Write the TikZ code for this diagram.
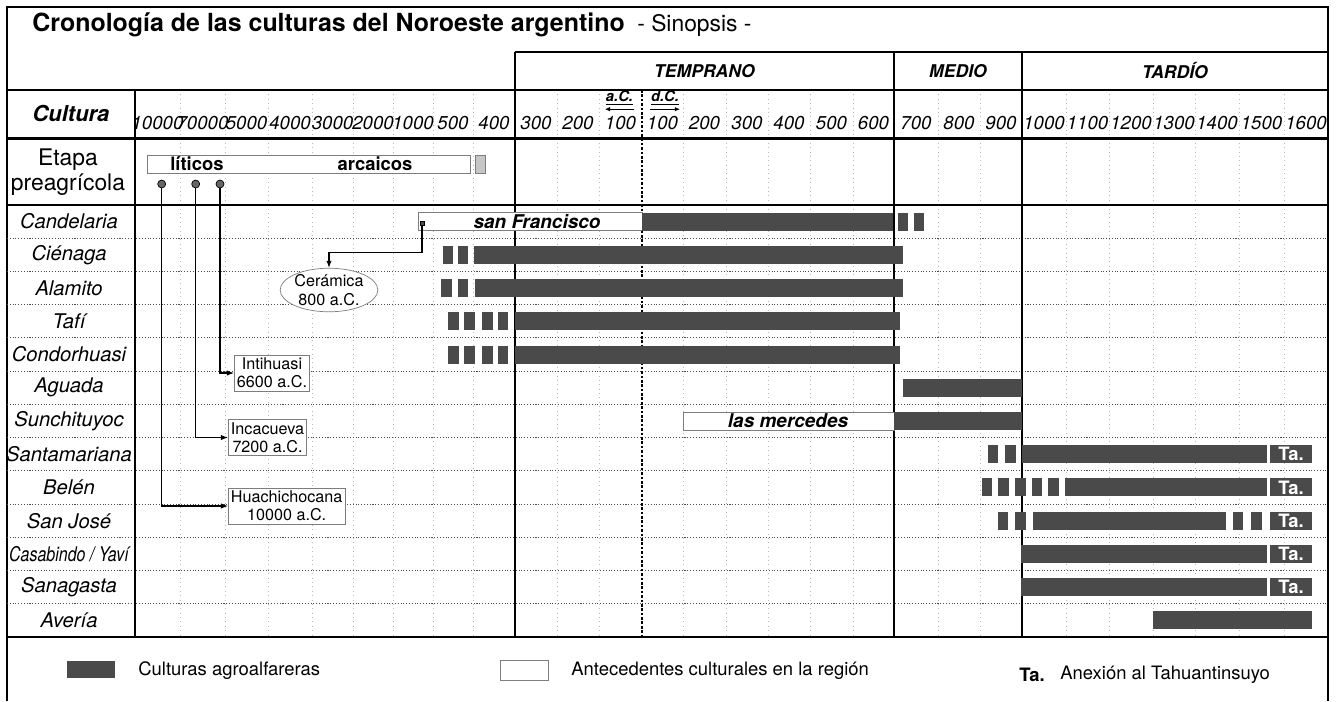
\documentclass[tikz,border=0pt]{standalone}
\usepackage{fontspec}
\setmainfont{TeX Gyre Heros}
\usetikzlibrary{arrows.meta,shapes.geometric,positioning}

\definecolor{barra}{RGB}{74,74,74}
\definecolor{borde}{RGB}{125,125,125}

\begin{document}
\begin{tikzpicture}[
    x=0.02cm, y=-0.02cm,   % una unidad = un pixel, y hacia abajo
    marco/.style={line width=1.3pt},
    grilla/.style={gray!55, dotted, line width=0.5pt},
    fila/.style={black!70, densely dotted, line width=0.6pt},
    agro/.style={fill=barra},
    antec/.style={draw=borde, fill=white, line width=0.5pt},
    anio/.style={font=\fontsize{10.6}{12}\selectfont\itshape, inner sep=0pt},
    periodo/.style={font=\fontsize{10}{12}\selectfont\bfseries\itshape, inner sep=0pt},
    cultura/.style={font=\fontsize{11.5}{13}\selectfont\itshape, inner sep=0pt},
    fase/.style={font=\fontsize{10.8}{12}\selectfont\bfseries\itshape, inner sep=0pt},
    sitio/.style={draw=borde, fill=white, align=center, inner sep=1.5pt,
        font=\fontsize{9.2}{10.5}\selectfont},
    tabox/.style={fill=barra, text=white, font=\fontsize{10.5}{12}\selectfont\bfseries,
        minimum width=0.84cm, minimum height=0.36cm, inner sep=0pt},
    punto/.style={circle, draw=black, fill=barra!85, minimum size=0.16cm, inner sep=0pt},
    flecha/.style={-{Latex[length=4pt,width=3pt]}, line width=0.6pt},
    leyenda/.style={font=\fontsize{10.5}{12}\selectfont, anchor=west, inner sep=0pt}
]
% fondo y marco
\path[fill=white, use as bounding box] (0,0) rectangle (1339,701);
\draw[marco] (7,701) -- (7,7) -- (1328,7) -- (1328,701);

% título
\node[anchor=west, inner sep=0pt] (titulo) at (32,25)
    {\fontsize{14.2}{16}\selectfont\bfseries Cronología de las culturas del Noroeste argentino\enspace
     \fontsize{13}{15}\selectfont\mdseries - Sinopsis -};

% grilla de columnas y filas
\foreach \x in {180,225,268,312,353,393,433,473,557,599,683,726,768,810,853,938,980,1066,1109,1153,1195,1239,1284}
    \draw[grilla] (\x,90) -- (\x,637);
\foreach \r in {1,...,12}
    \draw[fila] (7,{205+\r*33.23}) -- (1328,{205+\r*33.23});

% líneas principales
\draw[line width=0.7pt] (515,52) -- (1328,52);
\draw[line width=0.7pt] (7,90) -- (1328,90);
\draw[line width=1.4pt] (7,138.5) -- (1328,138.5);
\draw[line width=0.7pt] (7,205) -- (1328,205);
\draw[line width=1.4pt] (7,637) -- (1328,637);
\draw[line width=1.6pt] (135,90) -- (135,637);
\foreach \x in {515,894,1022}
    \draw[line width=0.7pt] (\x,52) -- (\x,637);
\draw[line width=0.8pt, dash pattern=on 1.5pt off 1pt] (642,90) -- (642,637);

% períodos
\node[periodo] (temprano) at (704.5,71) {TEMPRANO};
\node[periodo] (medio) at (958,71) {MEDIO};
\node[periodo] (tardio) at (1175,71) {TARDÍO};

% años
\node[font=\fontsize{12.5}{14}\selectfont\bfseries\itshape, inner sep=0pt] (cultura) at (71,113) {Cultura};
\foreach \xa/\xb/\t [count=\k] in {135/180/10000, 180/225/70000, 225/268/5000, 268/312/4000,
        312/353/3000, 353/393/2000, 393/433/1000, 433/473/500, 473/515/400,
        515/557/300, 557/599/200, 599/642/100, 642/683/100, 683/726/200, 726/768/300,
        768/810/400, 810/853/500, 853/894/600, 894/938/700, 938/980/800, 980/1022/900,
        1022/1066/1000, 1066/1109/1100, 1109/1153/1200, 1153/1195/1300, 1195/1239/1400,
        1239/1284/1500, 1284/1328/1600}
    \node[anio] (anio\k) at ({(\xa+\xb)/2},123) {\t};
\node[font=\fontsize{8.4}{10}\selectfont\bfseries\itshape, inner sep=0.5pt] (ac) at (619.5,98) {\underline{a.C.}};
\node[font=\fontsize{8.4}{10}\selectfont\bfseries\itshape, inner sep=0.5pt] (dc) at (665,98) {\underline{d.C.}};
\draw[-{Latex[length=3pt,width=2.5pt]}, line width=0.6pt] ([yshift=-1.5pt]ac.south east) -- ([yshift=-1.5pt]ac.south west);
\draw[-{Latex[length=3pt,width=2.5pt]}, line width=0.6pt] ([yshift=-1.5pt]dc.south west) -- ([yshift=-1.5pt]dc.south east);

% etapa preagrícola
\node[align=center, font=\fontsize{13}{14.5}\selectfont, inner sep=0pt] (etapa) at (68,172) {Etapa\\preagrícola};
\draw[antec] (147,155) rectangle (470,173);
\draw[draw=borde, fill=gray!45, line width=0.5pt] (475,155) rectangle (485,173);
\node[font=\fontsize{10.5}{12}\selectfont\bfseries, inner sep=0pt] (liticos) at (197,164) {líticos};
\node[font=\fontsize{10.5}{12}\selectfont\bfseries, inner sep=0pt] (arcaicos) at (375,164) {arcaicos};

% culturas
\foreach \i/\t in {1/Candelaria, 2/Ciénaga, 3/Alamito, 4/Tafí, 5/Condorhuasi, 6/Aguada,
        7/Sunchituyoc, 8/Santamariana, 9/Belén, 10/San José,
        11/{\scalebox{0.79}[1]{Casabindo / Yaví}}, 12/Sanagasta, 13/Avería}
    \node[cultura] (cul\i) at (69,{205+(\i-0.5)*33.23}) {\t};

% antecedentes
\draw[antec] (418,{205+7.6}) rectangle (642,{205+33.23-7.6});
\node[fase] (sanfco) at (537,{205+0.5*33.23}) {san Francisco};
\draw[antec] (683,{205+6*33.23+7.6}) rectangle (894,{205+7*33.23-7.6});
\node[fase] (merced) at (788,{205+6.5*33.23}) {las\ mercedes};

% culturas agroalfareras
\foreach \r/\xa/\xb in {1/642/893, 1/898/908, 1/914/924,
        2/443/453, 2/458/468, 2/474/903,
        3/441/452, 3/458/468, 3/475/903,
        4/448/459, 4/464/475, 4/482/493, 4/498/508, 4/515/900,
        5/448/459, 5/464/475, 5/482/493, 5/498/508, 5/515/900,
        6/903/1022, 7/894/1022,
        8/988/998, 8/1005/1016, 8/1022/1267,
        9/982/992, 9/998/1009, 9/1015/1026, 9/1032/1042, 9/1048/1059, 9/1065/1267,
        10/998/1008, 10/1015/1026, 10/1033/1226, 10/1233/1243, 10/1251/1262,
        11/1021/1267, 12/1021/1267, 13/1153/1312}
    \fill[agro] (\xa,{205+(\r-1)*33.23+7.6}) rectangle (\xb,{205+\r*33.23-7.6});
\foreach \r in {8,...,12}
    \node[tabox] (ta\r) at (1291,{205+(\r-0.5)*33.23}) {Ta.};

% sitios arqueológicos
\node[punto] (p1) at (161.7,184) {};
\node[punto] (p2) at (195.7,184) {};
\node[punto] (p3) at (220,184) {};
\node[sitio, anchor=west] (huachi) at (228,506) {Huachichocana\\10000 a.C.};
\node[sitio, anchor=west] (incac) at (228,437.5) {Incacueva\\7200 a.C.};
\node[sitio, anchor=west] (intih) at (234,373) {Intihuasi\\6600 a.C.};
\draw[flecha] (p1.south) |- (huachi.west);
\draw[flecha] (p2.south) |- (incac.west);
\draw[flecha] (p3.south) |- (intih.west);

% cerámica
\node[fill=barra, draw=black, line width=0.3pt, minimum size=0.08cm, inner sep=0pt] (sfmarca) at (422,223) {};
\node[ellipse, draw=borde, fill=white, align=center, inner sep=0pt, minimum width=1.82cm,
    minimum height=0.86cm, font=\fontsize{9.2}{10.5}\selectfont] (ceram) at (329,290) {Cerámica\\800 a.C.};
\draw[flecha] (sfmarca.south) -- ++(0,27) -| (ceram.north);

% leyenda
\fill[agro] (67,661) rectangle (115,678);
\node[leyenda] (ley1) at (138,671) {Culturas agroalfareras};
\draw[antec] (500,660) rectangle (548,680);
\node[leyenda] (ley2) at (571,671) {Antecedentes culturales en la región};
\node[leyenda, font=\fontsize{10.5}{12}\selectfont\bfseries] (ley3) at (1019,675) {Ta.};
\node[leyenda] (ley4) at (1060,675) {Anexión al Tahuantinsuyo};
\end{tikzpicture}
\end{document}
